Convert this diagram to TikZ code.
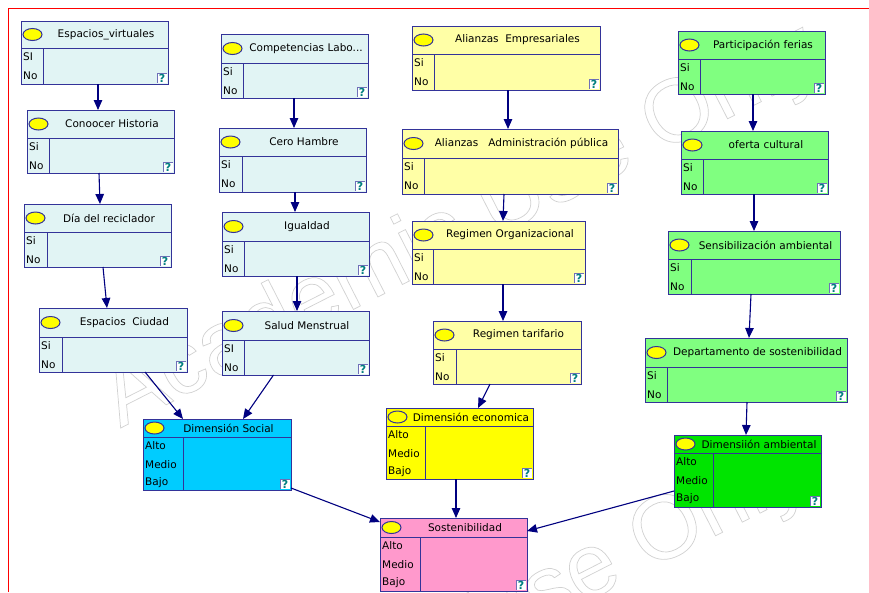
\documentclass[tikz,border=0pt]{standalone}
\usepackage{fontspec}
\setmainfont{DejaVu Sans}
\newfontfamily\wmfont{Liberation Sans}
\usetikzlibrary{arrows.meta}
\definecolor{cyanl}{HTML}{E1F4F4}
\definecolor{yell}{HTML}{FFFFA6}
\definecolor{greenl}{HTML}{80FF80}
\definecolor{socialc}{HTML}{00CCFF}
\definecolor{ecoc}{HTML}{FFFF00}
\definecolor{ambc}{HTML}{00E400}
\definecolor{sostc}{HTML}{FF99CC}
\definecolor{bordc}{HTML}{333399}
\definecolor{arrc}{HTML}{000080}
\definecolor{qmc}{HTML}{007F7F}
\newcommand\outl[1]{\special{pdf:literal direct 1 Tr 0.7 w}#1}
\tikzset{
  bx/.style={draw=bordc, line width=1pt, outer sep=0pt, inner sep=0pt},
  bxl/.style={draw=bordc, line width=1pt},
  ellstyle/.style={fill=ecoc},
  ttl/.style={font=\fontsize{10.5}{12}\selectfont, inner sep=0pt, text=black},
  st/.style={font=\fontsize{10.5}{12}\selectfont, inner sep=0pt, anchor=west, text=black},
  qm/.style={font=\bfseries\fontsize{11}{11}\selectfont, text=qmc, inner sep=0pt},
  qb/.style={draw=bordc!70, line width=0.6pt},
  arr/.style={draw=arrc, line width=1.1pt, -{Triangle[length=10pt,width=8.5pt]}},
  wm/.style={rotate=27, font=\wmfont\fontsize{90}{90}\selectfont, text=black!18, inner sep=0pt}
}
% name, x1, y1, x2, y2, header bottom, label column, fill, title
\newcommand\bnbox[9]{%
  \node[bx, fill=#8, anchor=north west, minimum width=#4pt-#2pt, minimum height=#5pt-#3pt] (#1) at (#2,#3) {};
  \draw[bxl] (#2,#6) -- (#4,#6) (#7,#6) -- (#7,#5);
  \draw[bxl, ellstyle] (#2+11.5, {(#3+#6)/2}) ellipse [x radius=9.5, y radius=6];
  \node[ttl] at ({(#2+23+#4)/2}, {(#3+#6)/2}) {#9};
  \fill[white] (#4-11,#5-11) rectangle (#4-1,#5-1);
  \draw[qb] (#4-1,#5-11) -- (#4-11,#5-11) -- (#4-11,#5-1);
  \node[qm] at (#4-6,#5-5.5) {?};
}
\newcommand\bnstates[3]{%
  \foreach \s [count=\i] in {#3} \node[st] at (#1+2, #2-9.5+18.5*\i) {\s};
}
\begin{document}
\begin{tikzpicture}[x=1pt, y=-1pt]
\useasboundingbox (0,0) rectangle (869,592);
\fill[white] (0,0) rectangle (869,592);
% watermark
\begin{scope}
\clip (0,0) rectangle (869,592);
\node[wm] (wm1) at (462,228) {\outl{Academic Use Only}};
\node[wm] (wm2) at (450,645) {\outl{Academic Use Only}};
\end{scope}
% frame
\draw[red, line width=1.5pt] (8.5,592) -- (8.5,8.5) -- (869,8.5);
% column 1
\bnbox{ev}{21}{21}{168}{84}{48}{43}{cyanl}{Espacios\_virtuales}
\bnstates{21}{48}{SI,No}
\bnbox{ch}{27}{110}{174}{173}{138}{49}{cyanl}{Conoocer Historia}
\bnstates{27}{138}{Si,No}
\bnbox{dr}{24}{204}{171}{267}{232}{47}{cyanl}{Día del reciclador}
\bnstates{24}{232}{Si,No}
\bnbox{ec}{39}{308}{187}{372}{337}{62}{cyanl}{Espacios\ \ Ciudad}
\bnstates{39}{337}{Si,No}
% column 2
\bnbox{cl}{221}{34}{368}{98}{63}{243}{cyanl}{Competencias Labo...}
\bnstates{221}{63}{Si,No}
\bnbox{chm}{219}{128}{366}{192}{156}{242}{cyanl}{Cero Hambre}
\bnstates{219}{156}{Si,No}
\bnbox{ig}{222}{212}{369}{276}{241}{244}{cyanl}{Igualdad}
\bnstates{222}{241}{Si,No}
\bnbox{sm}{222}{311}{369}{375}{340}{244}{cyanl}{Salud Menstrual}
\bnstates{222}{340}{SI,No}
% column 3
\bnbox{ae}{412}{26}{600}{90}{54}{434}{yell}{Alianzas\ \ Empresariales}
\bnstates{412}{54}{Si,No}
\bnbox{aap}{402}{129}{618}{194}{158}{424}{yell}{Alianzas\ \ \ Administración pública}
\bnstates{402}{158}{Si,No}
\bnbox{ro}{412}{221}{585}{284}{249}{433}{yell}{Regimen Organizacional}
\bnstates{412}{249}{Si,No}
\bnbox{rt}{433}{321}{581}{384}{349}{456}{yell}{Regimen tarifario}
\bnstates{433}{349}{Si,No}
% column 4
\bnbox{pf}{678}{31}{825}{94}{59}{700}{greenl}{Participación ferias}
\bnstates{678}{59}{Si,No}
\bnbox{oc}{681}{131}{828}{194}{159}{703}{greenl}{oferta cultural}
\bnstates{681}{159}{Si,No}
\bnbox{sa}{668}{231}{840}{294}{259}{691}{greenl}{Sensibilización ambiental}
\bnstates{668}{259}{Si,No}
\bnbox{ds}{645}{338}{847}{402}{367}{667}{greenl}{Departamento de sostenibilidad}
\bnstates{645}{367}{Si,No}
% dimensions
\bnbox{dsoc}{143}{419}{291}{490}{437}{183}{socialc}{Dimensión Social}
\bnstates{143}{437}{Alto,Medio,Bajo}
{\tikzset{ellstyle/.style={fill=none}}
\bnbox{deco}{386}{408}{533}{479}{426}{425}{ecoc}{Dimensión economica}}
\bnstates{386}{426}{Alto,Medio,Bajo}
\bnbox{damb}{674}{435}{821}{507}{453}{713}{ambc}{Dimensiión ambiental}
\bnstates{674}{453}{Alto,Medio,Bajo}
\bnbox{sost}{380}{518}{527}{591}{537}{420}{sostc}{Sostenibilidad}
\bnstates{380}{537}{Alto,Medio,Bajo}
% connectors
\draw[arr] ([xshift=3.5pt]ev.south) -- ([xshift=-2.5pt]ch.north);
\draw[arr] ([xshift=-1.5pt]ch.south) -- ([xshift=2.5pt]dr.north);
\draw[arr] ([xshift=5.5pt]dr.south) -- ([xshift=-6pt]ec.north);
\draw[arr] ([xshift=32pt]ec.south) -- ([xshift=-34pt]dsoc.north);
\draw[arr] ([xshift=-0.5pt]cl.south) -- ([xshift=1.5pt]chm.north);
\draw[arr] ([xshift=2.5pt]chm.south) -- ([xshift=-0.5pt]ig.north);
\draw[arr] ([xshift=1.5pt]ig.south) -- ([xshift=1.5pt]sm.north);
\draw[arr] ([xshift=-22pt]sm.south) -- ([xshift=26pt]dsoc.north);
\draw[arr] ([xshift=2pt]ae.south) -- ([xshift=-2pt]aap.north);
\draw[arr] ([xshift=-6pt]aap.south) -- ([xshift=4.5pt]ro.north);
\draw[arr] ([xshift=4.5pt]ro.south) -- ([xshift=-4pt]rt.north);
\draw[arr] ([xshift=-17pt]rt.south) -- ([xshift=18.5pt]deco.north);
\draw[arr] ([xshift=1.5pt]pf.south) -- ([xshift=-1.5pt]oc.north);
\draw[arr] ([xshift=-0.5pt]oc.south) -- (sa.north);
\draw[arr] ([xshift=-3pt]sa.south) -- ([xshift=3pt]ds.north);
\draw[arr] ([xshift=1pt]ds.south) -- ([xshift=-1.5pt]damb.north);
\draw[arr] ([yshift=2pt]dsoc.south east) -- ([yshift=-4pt]sost.north west);
\draw[arr] ([xshift=-3.5pt]deco.south) -- ([xshift=2.5pt]sost.north);
\draw[arr] ([yshift=-20pt]damb.west) -- ([yshift=-13pt]sost.north east);
\end{tikzpicture}
\end{document}
